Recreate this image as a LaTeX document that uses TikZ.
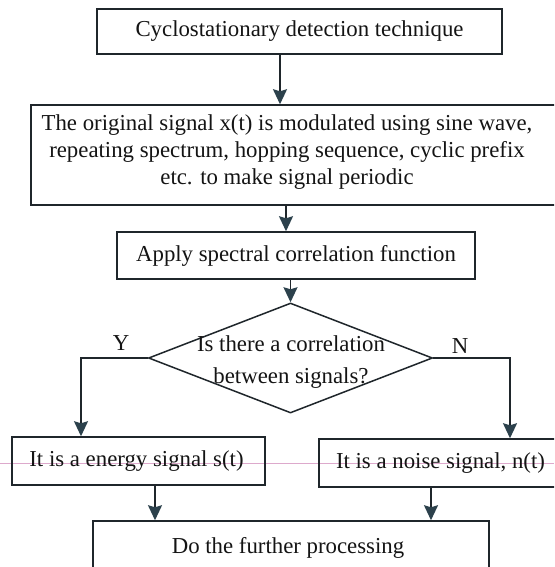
\documentclass[tikz,border=0pt]{standalone}
\usepackage{fontspec}
\setmainfont{Liberation Serif}
\usetikzlibrary{arrows.meta,shapes.geometric}
\definecolor{ink}{HTML}{1F262B}
\definecolor{headcol}{HTML}{2C414C}
\definecolor{ruleline}{HTML}{DDA9CC}
\begin{document}
\begin{tikzpicture}[x=1pt,y=-1pt,
  box/.style={draw=ink, line width=1.5pt, inner sep=0pt},
  txt/.style={font=\fontsize{22.8}{27}\selectfont, text=black!92, align=center, inner sep=0pt},
  link/.style={draw=ink, line width=1.5pt,
    -{Stealth[length=15pt,width=14pt,inset=2pt,color=headcol]}},
]
\useasboundingbox (0,0) rectangle (554,567);
\clip (0,0) rectangle (554,567);
\fill[white] (0,0) rectangle (554,567);

% faint ruled line of the page
\draw[ruleline, line width=0.8pt] (0,463) -- (554,463);

% boxes
\node[box, txt, minimum width=405pt, minimum height=45pt] (b1) at (299.5,31.5) {Cyclostationary detection technique};
\node[box, minimum width=544pt, minimum height=100pt] (b2) at (303,155) {};
\node[txt] (t2) at (287,152) {The original signal x(t) is modulated using sine wave,\\
repeating spectrum, hopping sequence, cyclic prefix\\ etc. to make signal periodic};
\node[box, txt, minimum width=358pt, minimum height=47pt] (b3) at (296,255.5) {Apply spectral correlation function};
\node[box, draw=ink, shape=diamond, minimum width=284pt, minimum height=110pt] (d) at (290.5,358) {};
\node[txt] (dq) at (291,362) {Is there a correlation\\[5pt] between signals?};
\node[txt] (ly) at (121,343) {Y};
\node[txt] (ln) at (460,346) {N};
\node[box, minimum width=253pt, minimum height=48pt] (b4) at (138.5,461) {};
\node[txt] (t4) at (136.5,461) {It is a energy signal s(t)};
\node[box, minimum width=256pt, minimum height=48pt] (b5) at (447,463) {};
\node[txt] (t5) at (440.5,463) {It is a noise signal, n(t)};
\node[box, minimum width=396pt, minimum height=80pt] (b6) at (291,561) {};
\node[txt] (t6) at (288,548) {Do the further processing};

% columns of the vertical connectors
\coordinate (c1) at (280,0);
\coordinate (c2) at (286,0);
\coordinate (cL) at (81,0);
\coordinate (cR) at (510,0);
\coordinate (cA) at (155,0);
\coordinate (cB) at (431,0);

% connectors
\draw[link] (b1.south -| c1) -- (b2.north -| c1);
\draw[link] (b2.south -| c2) -- (b3.north -| c2);
\draw[link] (b3.south -| d.north) -- (d.north);
\draw[link] (d.west) -| (cL |- b4.north);
\draw[link] (d.east) -| (cR |- b5.north);
\draw[link] (b4.south -| cA) -- (b6.north -| cA);
\draw[link] (b5.south -| cB) -- (b6.north -| cB);
\end{tikzpicture}
\end{document}
